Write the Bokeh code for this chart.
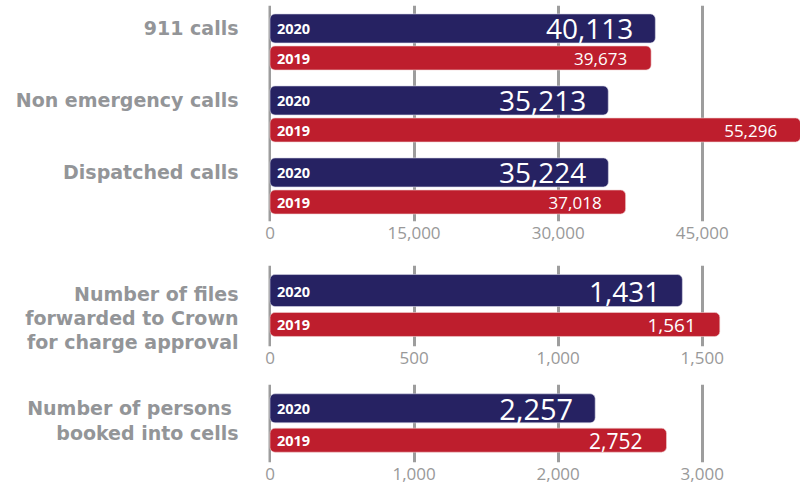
from bokeh.plotting import figure
from bokeh.models import (ColumnDataSource, Range1d, FixedTicker,
                          NumeralTickFormatter, LinearAxis)
from bokeh.layouts import column
from bokeh.transform import dodge
from bokeh.embed import file_html
from bokeh.resources import INLINE
from bokeh.core.properties import value

# ---- data ----
panel1_categories = ["911 calls", "Non emergency calls", "Dispatched calls"]
panel1_2020 = [40113, 35213, 35224]
panel1_2019 = [39673, 55296, 37018]
panel1_ticks = [0, 15000, 30000, 45000]

panel2_categories = ["Number of files\nforwarded to Crown\nfor charge approval"]
panel2_2020 = [1431]
panel2_2019 = [1561]
panel2_ticks = [0, 500, 1000, 1500]

panel3_categories = ["Number of  persons\nbooked into cells"]
panel3_2020 = [2257]
panel3_2019 = [2752]
panel3_ticks = [0, 1000, 2000, 3000]

year_new = "2020"
year_old = "2019"

NAVY = "#262262"
RED = "#BE1E2D"
GRID = "#9d9d9d"
LABEL_GRAY = "#939598"
TICK_GRAY = "#999999"

W = 800
LEFT = 268


def panel(cats, v_new, v_old, ticks, x_start, x_end, height, top, bottom,
          off_new, h_new, off_old, h_old, fs_new, fs_old, lab_start):
    n = len(cats)
    pos = list(range(n))[::-1]          # first category on top
    src = ColumnDataSource(dict(
        cat=cats,
        pos=pos,
        v_new=v_new,
        v_old=v_old,
        t_new=[f"{v:,}" for v in v_new],
        t_old=[f"{v:,}" for v in v_old],
        y_new=[year_new] * n,
        y_old=[year_old] * n,
        zero=[0] * n,
    ))
    p = figure(width=W, height=height, output_backend="svg", toolbar_location=None,
               y_range=Range1d(-0.5, n - 0.5),
               x_range=Range1d(x_start, x_end),
               min_border_left=LEFT, min_border_right=0,
               min_border_top=top, min_border_bottom=bottom)
    p.outline_line_color = None
    p.background_fill_color = None
    p.border_fill_color = None
    p.ygrid.grid_line_color = None
    p.yaxis.visible = False
    p.xgrid.ticker = FixedTicker(ticks=ticks)
    p.xgrid.grid_line_color = GRID
    p.xgrid.grid_line_width = 3

    ax = p.xaxis[0]
    ax.ticker = FixedTicker(ticks=ticks)
    ax.formatter = NumeralTickFormatter(format="0,0")
    ax.axis_line_color = None
    ax.major_tick_line_color = None
    ax.minor_tick_line_color = None
    ax.major_tick_out = 0
    ax.major_label_standoff = 5
    ax.major_label_text_font = "Open Sans"
    ax.major_label_text_font_size = "17px"
    ax.major_label_text_color = TICK_GRAY

    # category label axis: labels taken from the category list
    p.extra_y_ranges = {"lab": Range1d(lab_start, lab_start + n)}
    ya = LinearAxis(y_range_name="lab")
    ya.ticker = FixedTicker(ticks=pos)
    ya.major_label_overrides = {k: c for k, c in zip(pos, cats)}
    ya.axis_line_color = None
    ya.major_tick_line_color = None
    ya.minor_tick_line_color = None
    ya.major_tick_out = 0
    ya.major_tick_in = 0
    ya.major_label_standoff = 30
    ya.major_label_text_font = "DejaVu Sans"
    ya.major_label_text_font_style = "bold"
    ya.major_label_text_font_size = "19px"
    ya.major_label_text_color = LABEL_GRAY
    ya.major_label_text_line_height = 1.1
    p.add_layout(ya, "left")

    yn = dodge("pos", off_new)
    yo = dodge("pos", off_old)
    p.hbar(y=yn, right="v_new", left=0, height=h_new, source=src,
           fill_color=NAVY, line_color="#d8d8e8", line_width=0.6, border_radius=5)
    p.hbar(y=yo, right="v_old", left=0, height=h_old, source=src,
           fill_color=RED, line_color="#f0d0d0", line_width=0.6, border_radius=5)

    # year labels inside bars
    for yy, col in ((yn, "y_new"), (yo, "y_old")):
        p.text(x="zero", y=yy, text=col, source=src, x_offset=7, y_offset=1,
               text_align="left", text_baseline="middle", text_color="white",
               text_font=value("Open Sans"), text_font_size="14.5px", text_font_style="bold")
    # value labels
    p.text(x="v_new", y=yn, text="t_new", source=src, x_offset=-22, y_offset=1,
           text_align="right", text_baseline="middle", text_color="white",
           text_font=value("Open Sans"), text_font_size=fs_new)
    p.text(x="v_old", y=yo, text="t_old", source=src, x_offset=-24, y_offset=1,
           text_align="right", text_baseline="middle", text_color="white",
           text_font=value("Open Sans"), text_font_size=fs_old)
    return p


p1 = panel(panel1_categories, panel1_2020, panel1_2019, panel1_ticks, -156, 55225,
           252, 5, 31, 0.181, 0.403, -0.229, 0.333, "28px", "17px", -0.681)
p2 = panel(panel2_categories, panel2_2020, panel2_2019, panel2_ticks, -5.2, 1841,
           119, 13, 25, 0.191, 0.395, -0.228, 0.296, "28px", "19px", -0.352)
p3 = panel(panel3_categories, panel3_2020, panel3_2019, panel3_ticks, -10.4, 3682,
           114, 13, 23, 0.195, 0.372, -0.214, 0.308, "29px", "21px", -0.538)

layout = column(p1, p2, p3, spacing=0)
open("out.html", "w").write(file_html(layout, INLINE))
